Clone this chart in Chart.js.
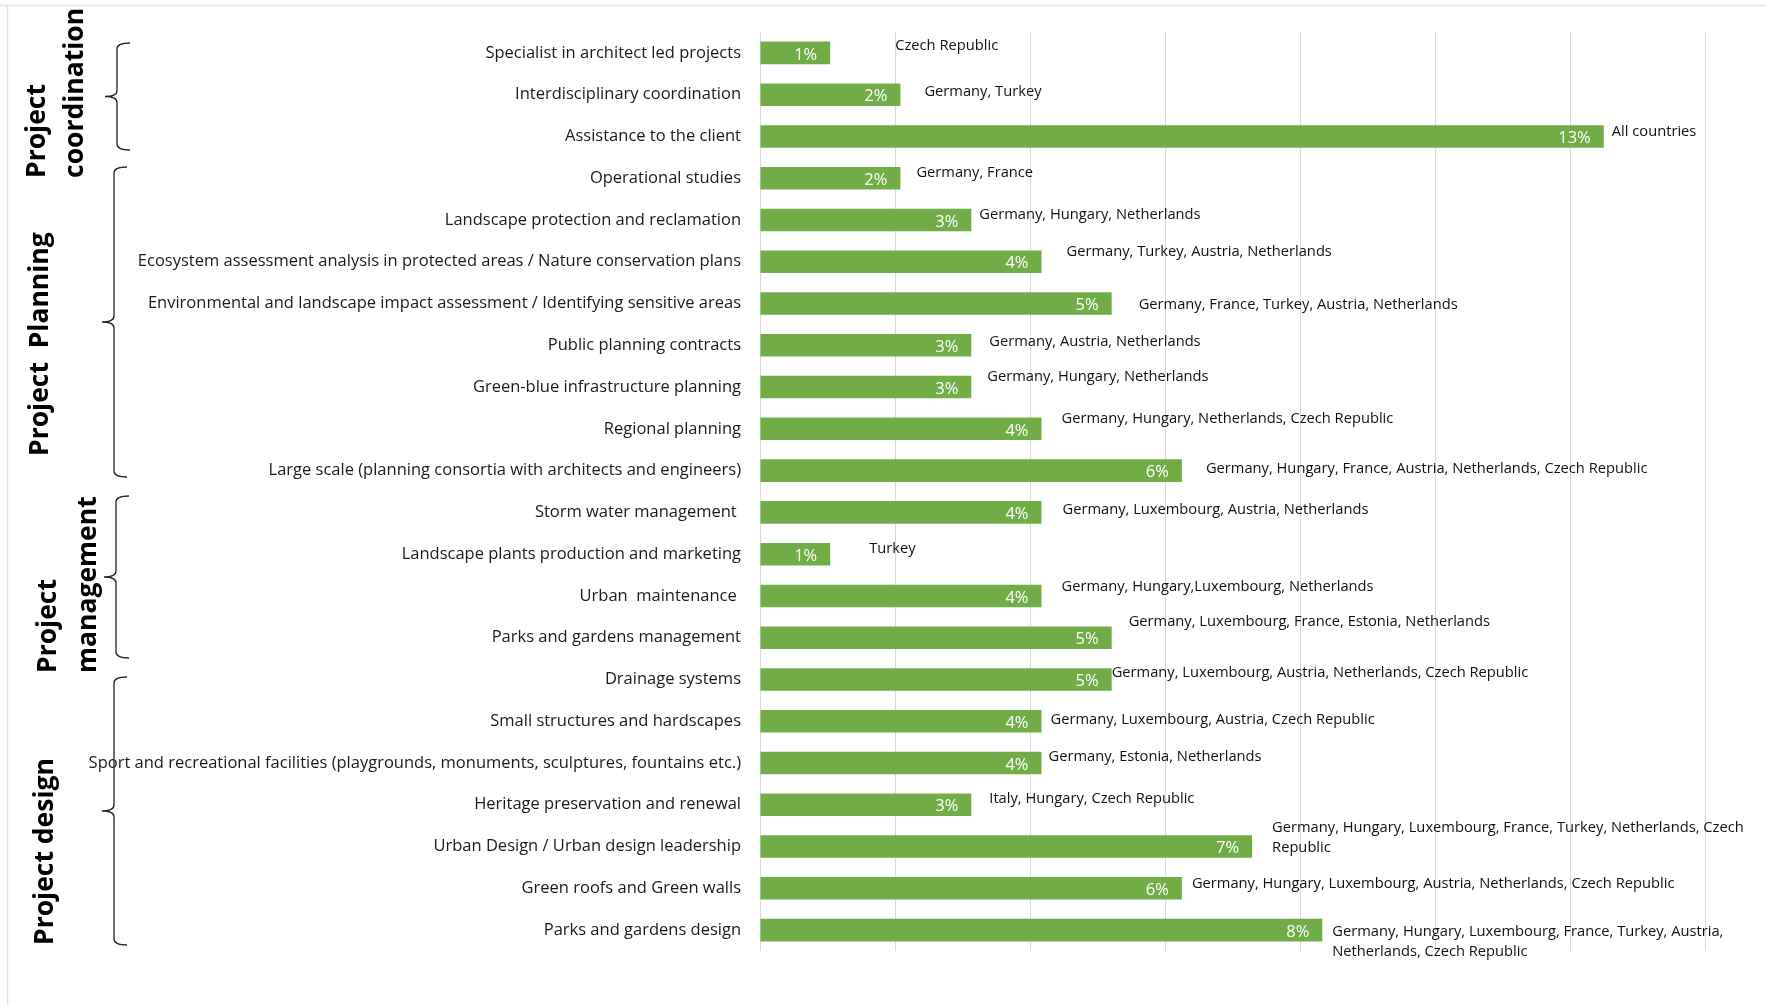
<!DOCTYPE html>
<html>
<head>
<meta charset="utf-8">
<script src="https://cdn.jsdelivr.net/npm/chart.js@4.4.1/dist/chart.umd.min.js"></script>
<style>
    html, body { margin: 0; padding: 0; background: #ffffff; }
    #wrap { width: 1766px; height: 1005px; position: relative; }
</style>
</head>
<body>
<div id="wrap"><canvas id="chart" width="1766" height="1005"></canvas></div>
<script>
// --- DATA ---
const categories = [
    'Specialist in architect led projects',
    'Interdisciplinary coordination',
    'Assistance to the client',
    'Operational studies',
    'Landscape protection and reclamation',
    'Ecosystem assessment analysis in protected areas / Nature conservation plans',
    'Environmental and landscape impact assessment / Identifying sensitive areas',
    'Public planning contracts',
    'Green-blue infrastructure planning',
    'Regional planning',
    'Large scale (planning consortia with architects and engineers)',
    'Storm water management ',
    'Landscape plants production and marketing',
    'Urban  maintenance ',
    'Parks and gardens management',
    'Drainage systems',
    'Small structures and hardscapes',
    'Sport and recreational facilities (playgrounds, monuments, sculptures, fountains etc.)',
    'Heritage preservation and renewal',
    'Urban Design / Urban design leadership',
    'Green roofs and Green walls',
    'Parks and gardens design'
];

// share of mentions, in %
const shares = [
    1.04, 2.08, 12.5, 2.08, 3.13, 4.17, 5.21, 3.13, 3.13, 4.17, 6.25,
    4.17, 1.04, 4.17, 5.21, 5.21, 4.17, 4.17, 3.13, 7.29, 6.25, 8.33
];

const countries = [
    ['Czech Republic'],
    ['Germany, Turkey'],
    ['All countries'],
    ['Germany, France'],
    ['Germany, Hungary, Netherlands'],
    ['Germany, Turkey, Austria, Netherlands'],
    ['Germany, France, Turkey, Austria, Netherlands'],
    ['Germany, Austria, Netherlands'],
    ['Germany, Hungary, Netherlands'],
    ['Germany, Hungary, Netherlands, Czech Republic'],
    ['Germany, Hungary, France, Austria, Netherlands, Czech Republic'],
    ['Germany, Luxembourg, Austria, Netherlands'],
    ['Turkey'],
    ['Germany, Hungary,Luxembourg, Netherlands'],
    ['Germany, Luxembourg, France, Estonia, Netherlands'],
    ['Germany, Luxembourg, Austria, Netherlands, Czech Republic'],
    ['Germany, Luxembourg, Austria, Czech Republic'],
    ['Germany, Estonia, Netherlands'],
    ['Italy, Hungary, Czech Republic'],
    ['Germany, Hungary, Luxembourg, France, Turkey, Netherlands, Czech', 'Republic'],
    ['Germany, Hungary, Luxembourg, Austria, Netherlands, Czech Republic'],
    ['Germany, Hungary, Luxembourg, France, Turkey, Austria,', 'Netherlands, Czech Republic']
];

const groupNames = [
    ['Project', 'coordination'],
    ['Project  Planning'],
    ['Project', 'management'],
    ['Project design']
];

const xTicks = [0, 2, 4, 6, 8, 10, 12, 14];

// --- LAYOUT (hand placed labels, like in the original sheet) ---
// [dx from bar end, dy from bar centre]
const countryNudge = [
    [65, -7], [24, -3], [8, -5], [16, -5], [8, -5], [25, -10], [27, 1],
    [18, -3], [16, -10], [20, -10], [24, -2], [21, -3], [39, -5], [20, -9],
    [17, -16], [0, -7], [9, -1], [7, -6], [18, -6], [20, -9], [10, -5], [10, 12]
];
// bracket x, top, bottom
const bracketBox = [[117, 43, 150], [114, 167, 477], [116, 496, 658], [114, 677, 945]];
// centre x of each text line, bottom y of text
const groupTextX = [[37, 75], [40], [48, 88], [45]];
const groupTextBottom = [178, 456, 673, 945];

const FONT = "'Open Sans', 'DejaVu Sans', sans-serif";

// --- OVERLAY PLUGIN ---
const overlay = {
    id: 'overlay',
    beforeDraw(chart) {
        const c = chart.ctx;
        c.save();
        c.fillStyle = '#ffffff';
        c.fillRect(0, 0, chart.width, chart.height);
        c.restore();
    },
    afterDatasetsDraw(chart) {
        const c = chart.ctx;
        const meta = chart.getDatasetMeta(0);
        c.save();
        meta.data.forEach((bar, i) => {
            // value label inside the bar
            c.font = `16.5px ${FONT}`;
            c.fillStyle = '#ffffff';
            c.textAlign = 'right';
            c.textBaseline = 'middle';
            c.fillText(Math.round(shares[i]) + '%', bar.x - 13, bar.y + 2);

            // countries next to the bar
            const lines = countries[i];
            const [dx, dy] = countryNudge[i];
            c.font = `14.7px ${FONT}`;
            c.fillStyle = '#111111';
            c.textAlign = 'left';
            const lh = 20;
            const y0 = bar.y + dy - (lines.length - 1) * lh / 2;
            lines.forEach((t, k) => c.fillText(t, bar.x + dx, y0 + k * lh));
        });
        c.restore();
    },
    afterDraw(chart) {
        const c = chart.ctx;
        c.save();
        // frame
        c.strokeStyle = '#e2e2e2';
        c.lineWidth = 1.5;
        c.beginPath();
        c.moveTo(0, 5.5); c.lineTo(chart.width, 5.5);
        c.moveTo(7.5, 5.5); c.lineTo(7.5, chart.height);
        c.stroke();

        // brackets
        c.strokeStyle = '#222222';
        c.lineWidth = 1.3;
        bracketBox.forEach(([x, top, bottom]) => {
            const mid = (top + bottom) / 2;
            const r = 6;
            c.beginPath();
            c.moveTo(x + 13, top);
            c.quadraticCurveTo(x, top, x, top + r);
            c.lineTo(x, mid - r);
            c.quadraticCurveTo(x, mid, x - 12, mid);
            c.quadraticCurveTo(x, mid, x, mid + r);
            c.lineTo(x, bottom - r);
            c.quadraticCurveTo(x, bottom, x + 13, bottom);
            c.stroke();
        });

        // group titles
        c.fillStyle = '#000000';
        c.font = `bold 26.5px ${FONT}`;
        c.textAlign = 'left';
        c.textBaseline = 'middle';
        groupNames.forEach((lines, g) => {
            lines.forEach((t, k) => {
                c.save();
                c.translate(groupTextX[g][k], groupTextBottom[g]);
                c.rotate(-Math.PI / 2);
                c.fillText(t, 0, 0);
                c.restore();
            });
        });
        c.restore();
    }
};

new Chart(document.getElementById('chart'), {
    type: 'bar',
    data: {
        labels: categories,
        datasets: [{
            data: shares,
            backgroundColor: '#70ad47',
            borderWidth: 0,
            categoryPercentage: 1,
            barPercentage: 0.54
        }]
    },
    options: {
        indexAxis: 'y',
        responsive: false,
        animation: false,
        devicePixelRatio: 1,
        layout: { padding: { left: 0, right: 61, top: 32, bottom: 54 } },
        plugins: {
            legend: { display: false },
            tooltip: { enabled: false }
        },
        scales: {
            x: {
                min: xTicks[0],
                max: xTicks[xTicks.length - 1],
                afterBuildTicks: s => { s.ticks = xTicks.map(v => ({ value: v })); },
                ticks: { display: false },
                grid: { color: '#d9d9d9', lineWidth: 1, drawTicks: false },
                border: { display: false },
                afterFit: s => { s.height = 0; }
            },
            y: {
                grid: { display: false },
                border: { display: false },
                ticks: {
                    autoSkip: false,
                    padding: 11,
                    color: '#1a1a1a',
                    font: { family: FONT, size: 16.5 }
                },
                afterFit: s => { s.width = 760; }
            }
        }
    },
    plugins: [overlay]
});
</script>
</body>
</html>
